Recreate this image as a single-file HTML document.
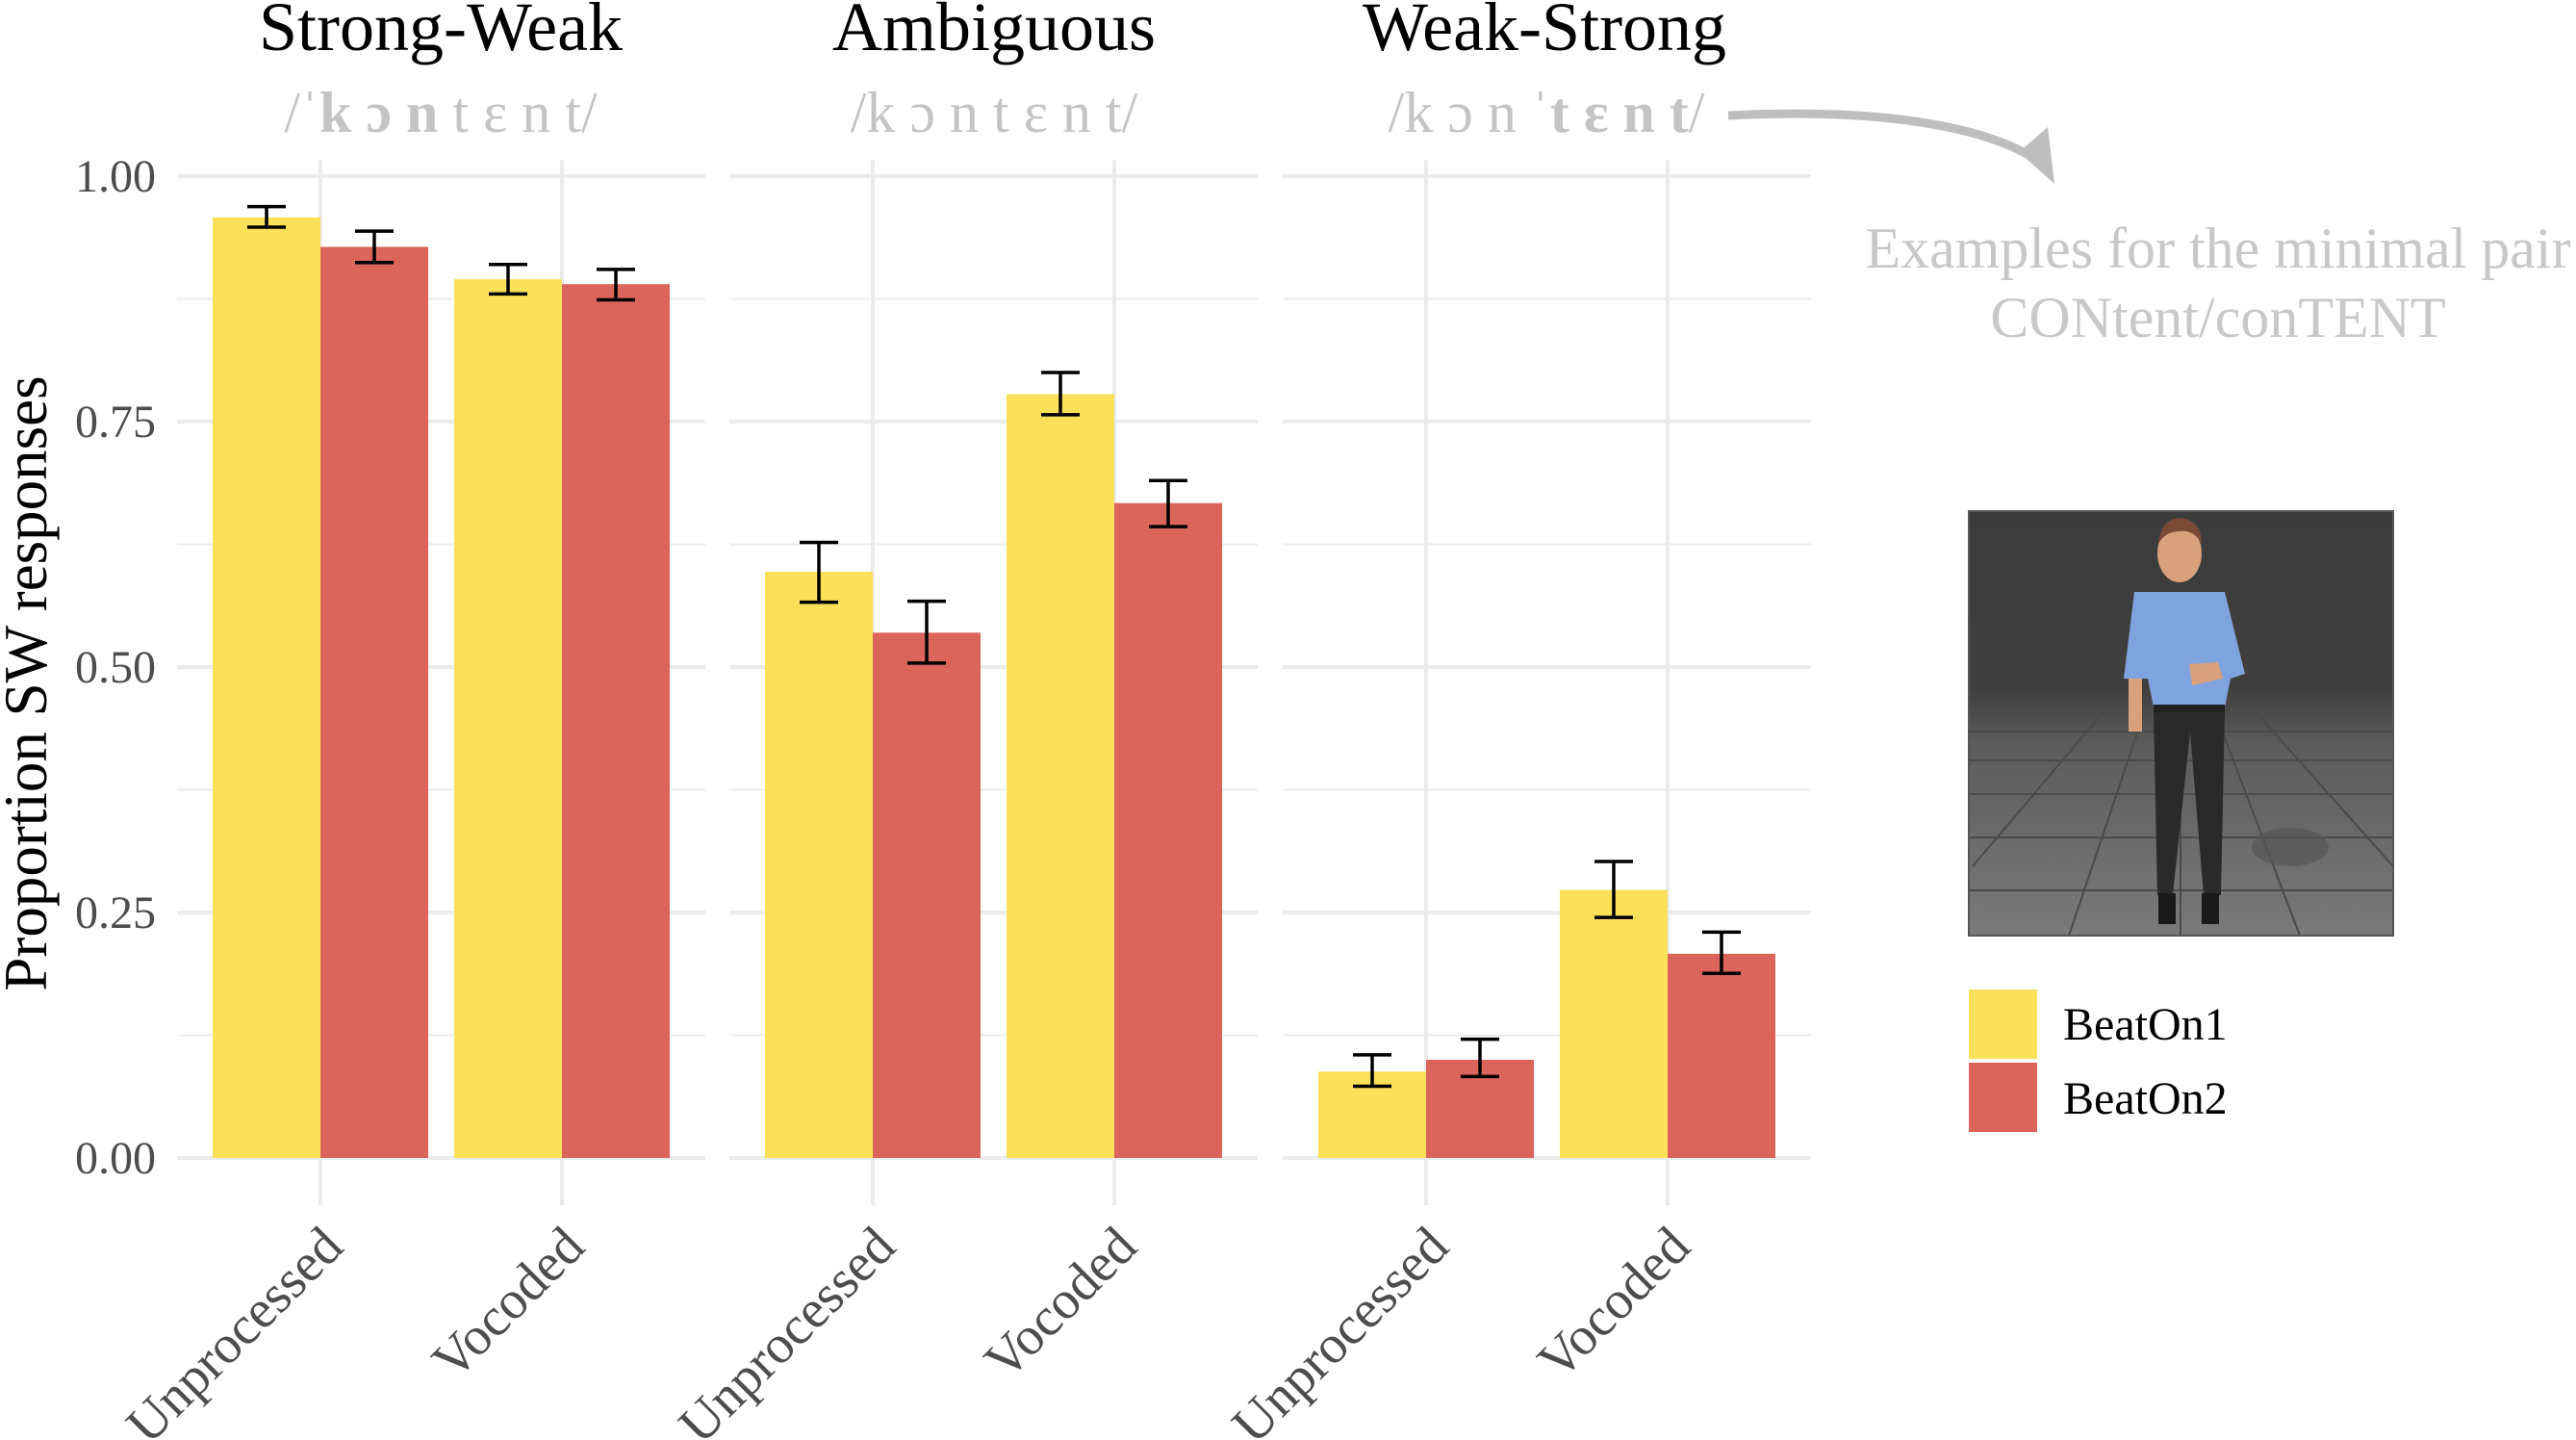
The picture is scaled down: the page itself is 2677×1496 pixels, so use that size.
<!DOCTYPE html>
<html><head><meta charset="utf-8"><style>
html,body{margin:0;padding:0;background:#fff;}
svg{display:block;font-family:"Liberation Serif","DejaVu Serif",serif;}
</style></head><body>
<svg id="chart" width="2677" height="1496" viewBox="0 0 2677 1496" xmlns="http://www.w3.org/2000/svg">
<defs>
<linearGradient id="bg" x1="0" y1="0" x2="0" y2="1">
<stop offset="0" stop-color="#3b3b3b"/><stop offset="0.42" stop-color="#3f3f3f"/><stop offset="0.55" stop-color="#5c5c5c"/><stop offset="1" stop-color="#7a7a7a"/>
</linearGradient>
</defs>
<g id="grid"></g>
<g id="bars"></g>
<g id="errs"></g>
<g id="labels"></g>
<text transform="translate(48,710) rotate(-90)" text-anchor="middle" font-size="63" fill="#000">Proportion SW responses</text>
<text x="458" y="137" text-anchor="middle" font-size="60" fill="#c4c4c4">/ˈ<tspan font-weight="bold">k ɔ n</tspan> t ɛ n t/</text>
<text x="1033" y="137" text-anchor="middle" font-size="60" fill="#c4c4c4">/k ɔ n t ɛ n t/</text>
<text x="1607" y="137" text-anchor="middle" font-size="60" fill="#c4c4c4">/k ɔ n ˈ<tspan font-weight="bold">t ɛ n t</tspan>/</text>
<path d="M1796,120 C1950,112 2070,130 2125,172" fill="none" stroke="#bebebe" stroke-width="9"/>
<polygon points="2128,132 2135,191 2098,158" fill="#bebebe"/>
<text x="2305" y="278" text-anchor="middle" font-size="60" fill="#c8c8c8">Examples for the minimal pair</text>
<text x="2305" y="350" text-anchor="middle" font-size="60" fill="#c8c8c8">CONtent/conTENT</text>
<g>
<rect x="2046" y="531" width="441" height="441" fill="url(#bg)" stroke="#555" stroke-width="2"/>
<g stroke="#4a4a4a" stroke-width="2" fill="none">
<line x1="2046" y1="760" x2="2487" y2="760"/><line x1="2046" y1="790" x2="2487" y2="790"/><line x1="2046" y1="825" x2="2487" y2="825"/><line x1="2046" y1="870" x2="2487" y2="870"/><line x1="2046" y1="925" x2="2487" y2="925"/>
<line x1="2266" y1="735" x2="2266" y2="972"/><line x1="2230" y1="735" x2="2150" y2="972"/><line x1="2300" y1="735" x2="2390" y2="972"/><line x1="2190" y1="735" x2="2050" y2="900"/><line x1="2340" y1="735" x2="2487" y2="900"/>
</g>
<ellipse cx="2380" cy="880" rx="40" ry="20" fill="#555" opacity="0.7"/>
<ellipse cx="2265" cy="575" rx="23" ry="30" fill="#d9a07c"/>
<path d="M2243,565 Q2245,540 2265,538 Q2288,540 2288,565 Q2280,550 2265,552 Q2250,552 2243,565Z" fill="#7a4a35"/>
<path d="M2218,615 L2312,615 L2333,700 L2318,705 L2312,735 L2238,735 L2232,705 L2207,705Z" fill="#7fa3dc"/>
<rect x="2238" y="732" width="74" height="8" fill="#222"/>
<path d="M2238,740 L2312,740 L2308,930 L2290,930 L2276,760 L2258,930 L2242,930Z" fill="#2a2a2a"/>
<rect x="2243" y="928" width="18" height="32" fill="#1a1a1a"/><rect x="2288" y="928" width="18" height="32" fill="#1a1a1a"/>
<rect x="2212" y="705" width="14" height="55" fill="#d9a07c"/>
<path d="M2275,690 L2305,688 L2310,705 L2278,712Z" fill="#d9a07c"/>
</g>
<rect x="2046" y="1028" width="71" height="72" fill="#fbe05a"/>
<rect x="2046" y="1104" width="71" height="72" fill="#db645b"/>
<text x="2144" y="1080" font-size="48" fill="#000">BeatOn1</text>
<text x="2144" y="1157" font-size="48" fill="#000">BeatOn2</text>
</svg>
<script>
var panels=["Strong-Weak","Ambiguous","Weak-Strong"];
var categories=["Unprocessed","Vocoded"];
var series=["BeatOn1","BeatOn2"];
var beat1=[0.958,0.895, 0.597,0.778, 0.088,0.273];
var beat1Lo=[0.948,0.880, 0.566,0.757, 0.073,0.245];
var beat1Hi=[0.969,0.910, 0.627,0.800, 0.105,0.302];
var beat2=[0.928,0.890, 0.535,0.667, 0.100,0.208];
var beat2Lo=[0.912,0.874, 0.504,0.643, 0.083,0.188];
var beat2Hi=[0.944,0.905, 0.567,0.690, 0.121,0.230];
var yTicks=[0,0.25,0.5,0.75,1];
var yTickLabels=["0.00","0.25","0.50","0.75","1.00"];
var NS="http://www.w3.org/2000/svg";
var panelX0=[184,758,1333], panelW=549;
var titleX=[458,1033,1605];
var Y0=1203, Y1=183;
function yS(v){return Y0-(Y0-Y1)*v;}
function xS(p,c){return panelX0[p]+149+c*251;}
var barW=112;
function mk(tag,attrs,parent){var e=document.createElementNS(NS,tag);for(var k in attrs)e.setAttribute(k,attrs[k]);document.getElementById(parent).appendChild(e);return e;}
for(var p=0;p<3;p++){
  for(var j=0;j<=8;j++){
    var v=j*0.125;
    var major=(j%2===0);
    var l=mk('line',{x1:panelX0[p],x2:panelX0[p]+panelW,y1:yS(v),y2:yS(v),stroke:'#ebebeb','stroke-width':major?4:2},'grid');
    
    
  }
  for(var c=0;c<2;c++){
    var l2=mk('line',{x1:xS(p,c),x2:xS(p,c),y1:166,y2:1252,stroke:'#ebebeb','stroke-width':4},'grid');
    
    
  }
  var t=mk('text',{x:titleX[p],y:52,'text-anchor':'middle','font-size':72,fill:'#000'},'labels');
  t.textContent=panels[p];
  
  
}
for(var i=0;i<yTicks.length;i++){
  var t=mk('text',{x:162,y:yS(yTicks[i])+16,'text-anchor':'end','font-size':48,fill:'#4d4d4d'},'labels');
  t.textContent=yTickLabels[i];
  
  
}
for(var p=0;p<3;p++)for(var c=0;c<2;c++){
  var i=p*2+c, xc=xS(p,c);
  var vals=[[beat1[i],beat1Lo[i],beat1Hi[i],'#fbe05a',-1],[beat2[i],beat2Lo[i],beat2Hi[i],'#db645b',0]];
  for(var k=0;k<2;k++){
    var s=vals[k];
    var bx=xc+s[4]*barW;
    var r=mk('rect',{x:bx,y:yS(s[0]),width:barW,height:Y0-yS(s[0]),fill:s[3]},'bars');
    
    
    var cx=bx+barW/2;
    var d='M'+(cx-20)+','+yS(s[2])+'H'+(cx+20)+'M'+cx+','+yS(s[2])+'V'+yS(s[1])+'M'+(cx-20)+','+yS(s[1])+'H'+(cx+20);
    var g=mk('path',{d:d,stroke:'#000','stroke-width':3.5,fill:'none'},'errs');
    
    
  }
  var t=mk('text',{x:0,y:0,'text-anchor':'end','font-size':56,fill:'#4d4d4d',transform:'translate('+(xc+26)+',1298) rotate(-45)'},'labels');
  t.textContent=categories[c];
  
  
}
</script>
</body></html>
